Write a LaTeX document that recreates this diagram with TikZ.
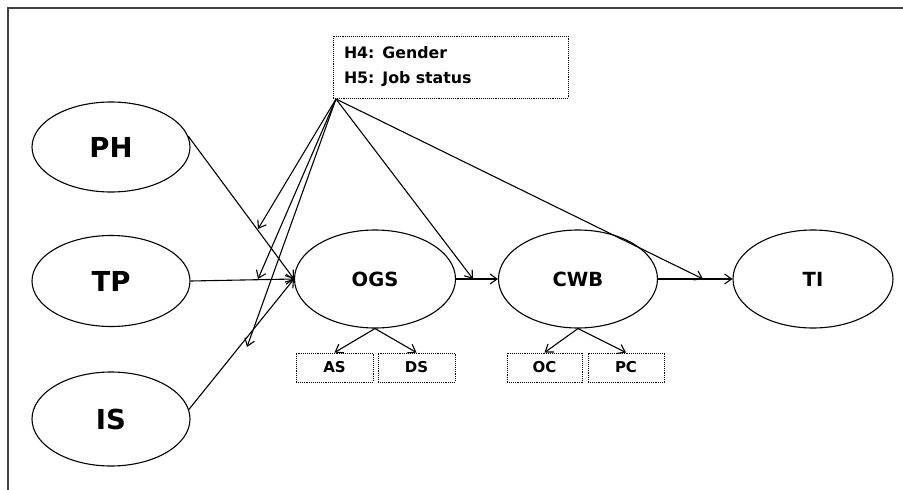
\documentclass[tikz,border=0pt]{standalone}
\usepackage{fontspec}
\setmainfont{DejaVu Sans}
\usetikzlibrary{shapes.geometric,arrows.meta}
\tikzset{
  bigell/.style={draw, ellipse, line width=1.1pt, inner sep=0pt, minimum width=158pt, font=\fontsize{27.5}{30}\selectfont\bfseries},
  midell/.style={draw, ellipse, line width=1.1pt, inner sep=0pt, minimum width=160pt, minimum height=98pt, font=\fontsize{19.5}{22}\selectfont\bfseries},
  dotbox/.style={draw, dash pattern=on 1pt off 0.9pt, line width=0.9pt, inner sep=0pt},
  smallbox/.style={dotbox, minimum height=29pt, font=\fontsize{15}{17}\selectfont\bfseries},
  arr/.style={line width=1.1pt, -{Straight Barb[length=7pt,width=10pt]}},
  frame/.style={line width=2pt, draw=black!75}
}
\begin{document}
\begin{tikzpicture}[x=1pt,y=-1pt]
\useasboundingbox (0,0) rectangle (903,490);
\coordinate (fr1) at (8,490);
\coordinate (fr2) at (8,8);
\coordinate (fr3) at (903,8);
\draw[frame] (fr1) -- (fr2) -- (fr3);

\node[bigell, minimum height=90pt] (PH) at (111,147) {PH};
\node[bigell, minimum height=91pt] (TP) at (111,281) {TP};
\node[bigell, minimum height=94pt] (IS) at (111,419) {IS};
\node[midell, minimum width=161pt] (OGS) at (375,279) {OGS};
\node[midell, minimum width=159pt] (CWB) at (578,279) {CWB};
\node[midell] (TI) at (813,279) {TI};

\node[dotbox, minimum width=235pt, minimum height=62pt, text width=213pt, align=left,
      font=\fontsize{15.8}{25}\selectfont\bfseries] (mod) at (450.5,67)
      {\raisebox{-3.5pt}{\parbox{213pt}{H4: Gender\\H5: Job status}}};

\node[smallbox, minimum width=77pt] (AS) at (334.5,367.5) {AS};
\node[smallbox, minimum width=77pt] (DS) at (416.5,367.5) {DS};
\node[smallbox, minimum width=75pt] (OC) at (544.5,367.5) {OC};
\node[smallbox, minimum width=76pt] (PC) at (626,367.5) {PC};

% main paths
\draw[arr] (PH.8) -- (OGS.west);
\draw[arr] (TP.east) -- (OGS.west);
\draw[arr] (IS.7) -- (OGS.west);
\draw[arr] (OGS.east) -- (CWB.west);
\draw[arr] (CWB.east) -- (TI.west);

% dimensions
\draw[arr] (OGS.south) -- (AS.north);
\draw[arr] (OGS.south) -- (DS.north);
\draw[arr] (CWB.south) -- (OC.north);
\draw[arr] (CWB.south) -- (PC.north);

% moderation
\coordinate (apex) at (336,99);
\coordinate (m1) at (258,229);
\coordinate (m2) at (258,279);
\coordinate (m3) at (247,347);
\coordinate (m4) at (473,279);
\coordinate (m5) at (703,279);
\draw[arr] (apex) -- (m1);
\draw[arr] (apex) -- (m2);
\draw[arr] (apex) -- (m3);
\draw[arr] (apex) -- (m4);
\draw[arr] (apex) -- (m5);
\end{tikzpicture}
\end{document}
